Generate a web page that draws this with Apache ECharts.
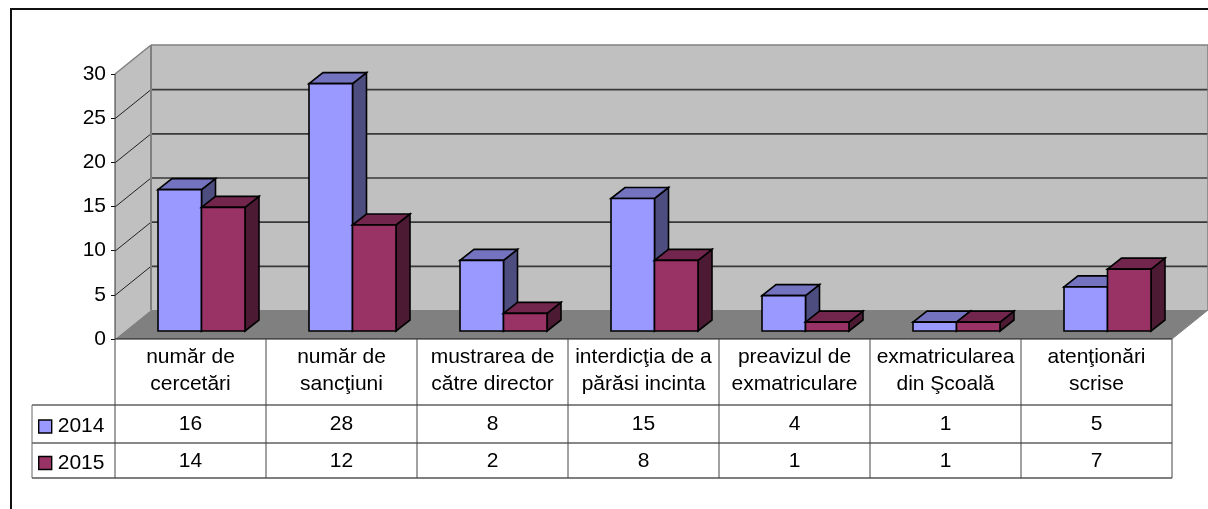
<!DOCTYPE html>
<html>
<head>
<meta charset="utf-8">
<style>
  html, body { margin: 0; padding: 0; background: #fff; }
  #chart { width: 1208px; height: 509px; }
</style>
<script src="https://cdn.jsdelivr.net/npm/echarts@6/dist/echarts.min.js"></script>
</head>
<body>
<div id="chart"></div>
<script>
const categories = [
  'număr de\ncercetări',
  'număr de\nsancţiuni',
  'mustrarea de\ncătre director',
  'interdicţia de a\npărăsi incinta',
  'preavizul de\nexmatriculare',
  'exmatricularea\ndin Şcoală',
  'atenţionări\nscrise'
]
const values2014 = [16, 28, 8, 15, 4, 1, 5]
const values2015 = [14, 12, 2, 8, 1, 1, 7]
const yTicks = [0, 5, 10, 15, 20, 25, 30]

const font = 'Liberation Sans, Arial, sans-serif'
const fontSize = 21

// chart box in px
const plot = { left: 115, top: 74, width: 1057, height: 265 }
const wall = { dx: 36, dy: -29 }     // depth of the floor
const barFront = { dx: 11, dy: -8 }  // where the bars stand on the floor
const barDepth = { dx: 14, dy: -11 }
const barW = 43.5
const rows = { top: 405, mid: 443, bottom: 478 }

const poly = (points, fill, stroke, lineWidth) => ({
  type: 'polygon',
  shape: { points },
  style: { fill, stroke: stroke || 'none', lineWidth: lineWidth || 0 }
})
const line = (x1, y1, x2, y2, stroke, lineWidth) => ({
  type: 'line',
  shape: { x1, y1, x2, y2 },
  style: { stroke, lineWidth: lineWidth || 1 }
})

const renderWalls = (params, api) => {
  const x0 = api.coord([0, 0])[0] - api.size([1, 0])[0] / 2
  const x1 = x0 + api.size([1, 0])[0] * categories.length
  const y0 = api.coord([0, 0])[1]
  const y30 = api.coord([0, 30])[1]
  const { dx, dy } = wall
  const children = [
    poly([[x0 + dx, y30 + dy], [x1 + dx, y30 + dy], [x1 + dx, y0 + dy], [x0 + dx, y0 + dy]], '#c0c0c0'),
    poly([[x0, y30], [x0 + dx, y30 + dy], [x0 + dx, y0 + dy], [x0, y0]], '#c0c0c0'),
    poly([[x0, y0], [x0 + dx, y0 + dy], [x1 + dx, y0 + dy], [x1, y0]], '#808080')
  ]
  yTicks.slice(1, -1).forEach(t => {
    const y = api.coord([0, t])[1] + 0.5
    children.push(line(x0 + dx, y + dy, x1 + dx, y + dy, '#383838', 1.6))
    children.push(line(x0, y, x0 + dx, y + dy, '#222', 1))
  })
  children.push(line(x0, y30, x0 + dx, y30 + dy, '#808080', 1.5))
  children.push(line(x0 + dx, y30 + dy, x1 + dx, y30 + dy, '#808080', 1.5))
  children.push(line(x0 + dx, y30 + dy, x0 + dx, y0 + dy, '#808080', 2))
  children.push(line(x1 + dx, y30 + dy, x1 + dx, y0 + dy, '#808080', 1.5))
  children.push(line(x1, y0, x1 + dx, y0 + dy, '#808080', 1))
  children.push(line(x0, y30, x0, y0, '#333', 1))
  return { type: 'group', children }
}

const renderTable = (params, api) => {
  const band = api.size([1, 0])[0]
  const left = api.coord([0, 0])[0] - band / 2
  const y0 = api.coord([0, 0])[1]
  const right = left + band * categories.length
  const children = [
    line(32, rows.top, right, rows.top, '#111'),
    line(32, rows.mid, right, rows.mid, '#111'),
    line(32, rows.bottom, right, rows.bottom, '#555', 1.5),
    line(32, rows.top, 32, rows.bottom, '#666'),
    line(left, y0, right, y0, '#111')
  ]
  for (let i = 0; i <= categories.length; i++) {
    const x = left + band * i
    children.push(line(x, y0, x, rows.bottom, '#444'))
  }
  return { type: 'group', children }
}

const renderBar = (offset, face, top, side) => (params, api) => {
  const x = api.coord([api.value(0), 0])[0] + barFront.dx + offset
  const y0 = api.coord([0, 0])[1] + barFront.dy
  const y1 = api.coord([0, api.value(1)])[1] + barFront.dy
  const { dx, dy } = barDepth
  const stroke = '#000'
  return {
    type: 'group',
    children: [
      poly([[x + barW, y1], [x + barW + dx, y1 + dy], [x + barW + dx, y0 + dy], [x + barW, y0]], side, stroke, 1.6),
      poly([[x, y1], [x + dx, y1 + dy], [x + barW + dx, y1 + dy], [x + barW, y1]], top, stroke, 1.6),
      poly([[x, y1], [x + barW, y1], [x + barW, y0], [x, y0]], face, stroke, 1.6)
    ]
  }
}

const renderCell = (rowY) => (params, api) => ({
  type: 'text',
  x: api.coord([api.value(0), 0])[0],
  y: rowY,
  style: {
    text: String(api.value(1)),
    font: fontSize + 'px ' + font,
    fill: '#000',
    align: 'center',
    verticalAlign: 'middle'
  }
})

const chart = echarts.init(document.getElementById('chart'), null, { renderer: 'canvas' })
chart.setOption({
  animation: false,
  backgroundColor: '#fff',
  textStyle: { fontFamily: font },
  grid: { ...plot, containLabel: false },
  legend: {
    orient: 'vertical',
    left: 33,
    top: 411,
    itemWidth: 13,
    itemHeight: 13,
    itemGap: 15.5,
    selectedMode: false,
    icon: 'rect',
    data: ['2014', '2015'],
    textStyle: { fontSize, color: '#000', fontFamily: font, padding: [0, 0, 0, 1] },
    itemStyle: { borderColor: '#000', borderWidth: 1.4 }
  },
  xAxis: {
    type: 'category',
    data: categories,
    axisLine: { show: false },
    axisTick: { show: false },
    axisLabel: { color: '#000', fontSize, lineHeight: 27, margin: 5, interval: 0, fontFamily: font }
  },
  yAxis: {
    type: 'value',
    min: 0,
    max: 30,
    interval: 5,
    axisLine: { show: false },
    axisTick: { show: true, length: 4, lineStyle: { color: '#111' } },
    splitLine: { show: false },
    axisLabel: { color: '#000', fontSize, margin: 9, fontFamily: font, padding: [2, 0, 0, 0] }
  },
  graphic: [{
    type: 'rect',
    shape: { x: 11, y: 9, width: 1300, height: 600 },
    style: { fill: 'none', stroke: '#111', lineWidth: 2 },
    silent: true,
    z: 100
  }],
  series: [
    { type: 'custom', name: 'walls', data: [[0, 0]], renderItem: renderWalls, silent: true, z: 1, clip: false },
    { type: 'custom', name: 'table', data: [[0, 0]], renderItem: renderTable, silent: true, z: 1, clip: false },
    {
      type: 'custom', name: '2014', z: 2, clip: false,
      data: values2014.map((v, i) => [i, v]),
      itemStyle: { color: '#9999ff' },
      renderItem: renderBar(-barW, '#9999ff', '#7373c0', '#4d4d80'),
      encode: { x: 0, y: 1 }
    },
    {
      type: 'custom', name: '2015', z: 3, clip: false,
      data: values2015.map((v, i) => [i, v]),
      itemStyle: { color: '#993366' },
      renderItem: renderBar(0, '#993366', '#73264d', '#4d1a33'),
      encode: { x: 0, y: 1 }
    },
    { type: 'custom', name: 'row2014', z: 4, clip: false, data: values2014.map((v, i) => [i, v]), renderItem: renderCell(424), encode: { x: 0, y: 1 } },
    { type: 'custom', name: 'row2015', z: 4, clip: false, data: values2015.map((v, i) => [i, v]), renderItem: renderCell(461), encode: { x: 0, y: 1 } }
  ]
})
</script>
</body>
</html>
